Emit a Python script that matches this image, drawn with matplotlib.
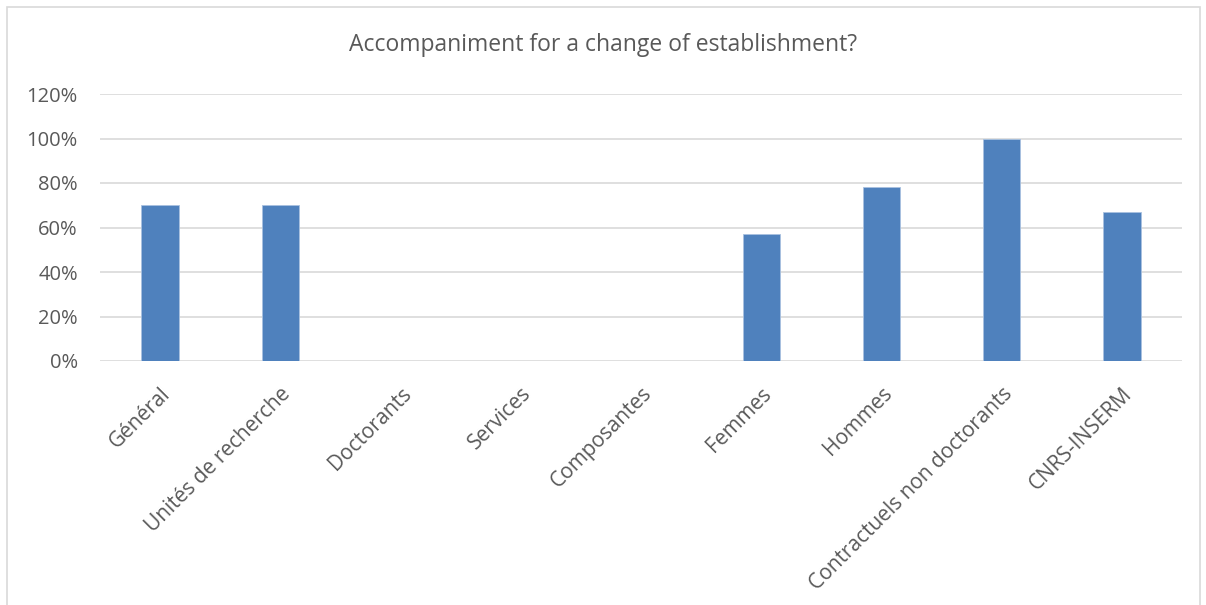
import numpy as np
import matplotlib.pyplot as plt
from matplotlib.patches import Rectangle

categories = ['Général', 'Unités de recherche', 'Doctorants', 'Services', 'Composantes',
              'Femmes', 'Hommes', 'Contractuels non doctorants', 'CNRS-INSERM']
values = [70, 70, 0, 0, 0, 57, 78, 100, 67]
yticks = [0, 20, 40, 60, 80, 100, 120]

plt.rcParams['font.family'] = ['Open Sans', 'DejaVu Sans']

fig = plt.figure(figsize=(12.06, 6.05), dpi=100)
ax = fig.add_axes([100/1206, 1 - 361/605, 1082/1206, 267/605])

x = np.arange(len(categories))
ax.bar(x, values, width=0.31, color='#4f81bd', edgecolor='#a9c1e0', linewidth=0.6, zorder=3)

ax.set_xlim(-0.5, len(categories) - 0.5)
ax.set_ylim(0, 120)
ax.set_yticks(yticks)
ax.set_yticklabels([f'{t}%' for t in yticks], fontsize=14.5, color='#595959')
ax.yaxis.grid(True, color='#d9d9d9', linewidth=1.2, zorder=0)
ax.tick_params(axis='both', length=0)
ax.tick_params(axis='y', pad=16)
for s in ax.spines.values():
    s.set_visible(False)

ax.set_xticks(x)
ax.set_xticklabels(categories, rotation=45, ha='right', rotation_mode='anchor',
                   fontsize=15, color='#595959')
ax.tick_params(axis='x', pad=16)

fig.text(0.5, 1 - 45/605, 'Accompaniment for a change of establishment?',
         ha='center', va='center', fontsize=16.5, color='#595959')

fig.patches.append(Rectangle((7/1206, -0.02), 1193/1206, 1.02 - 7/605, transform=fig.transFigure,
                             fill=False, edgecolor='#d9d9d9', linewidth=1.2))

fig.savefig('out.png', dpi=100, facecolor='white')
